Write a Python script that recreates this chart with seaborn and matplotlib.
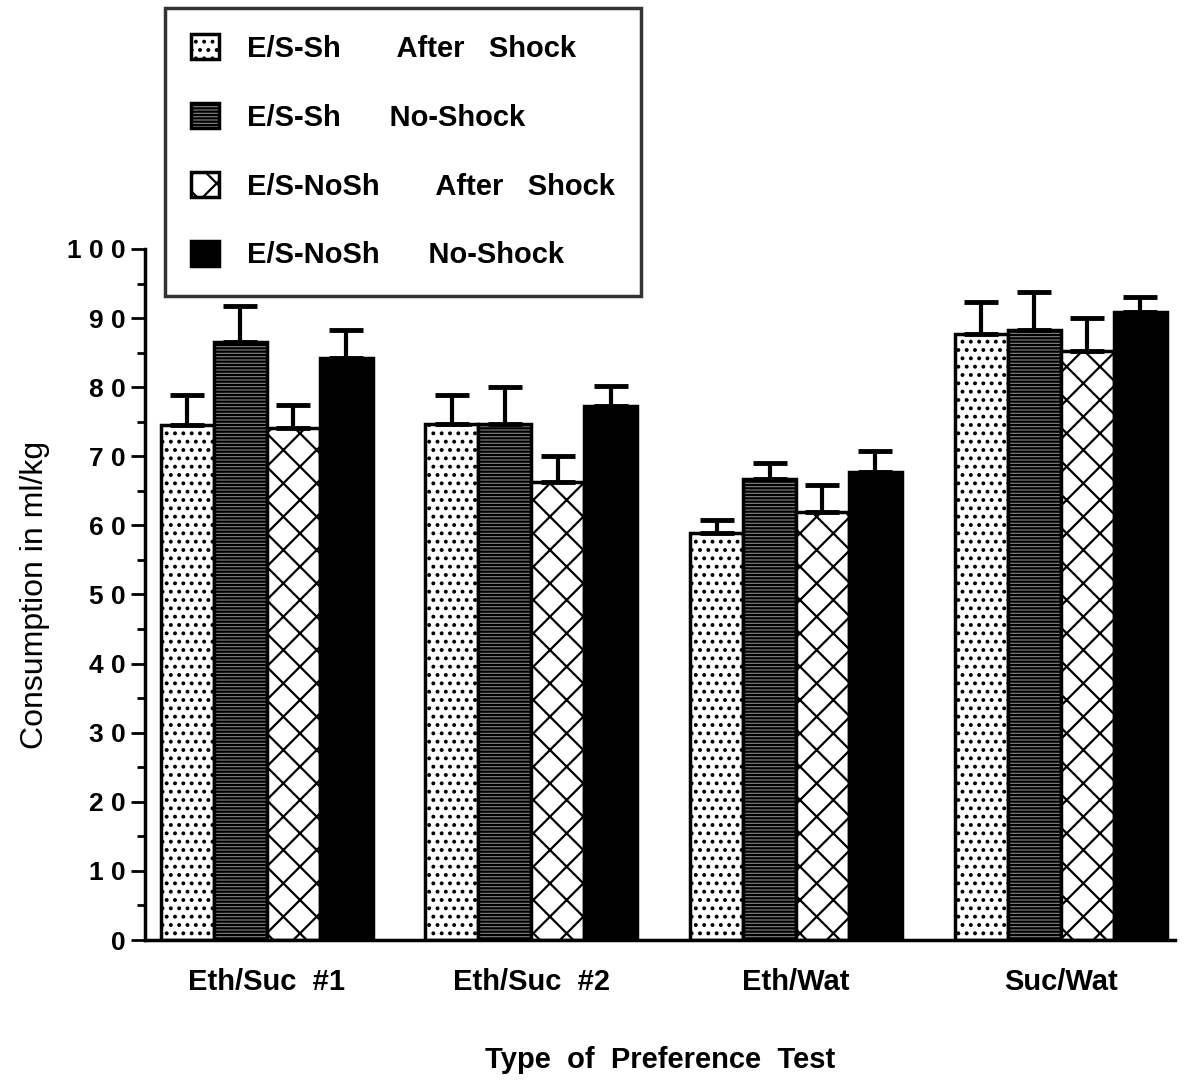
import numpy as np
import pandas as pd
import matplotlib
matplotlib.use("Agg")
import matplotlib.pyplot as plt
import seaborn as sns
from matplotlib.patches import Patch

# Preference tests and the four experimental groups
tests = ["Eth/Suc  #1", "Eth/Suc  #2", "Eth/Wat", "Suc/Wat"]
groups = ["E/S-Sh       After   Shock", "E/S-Sh      No-Shock",
          "E/S-NoSh       After   Shock", "E/S-NoSh      No-Shock"]

# Mean consumption (ml/kg) per group, one value per test
sh_after = [74.5, 74.7, 58.9, 87.7]
sh_noshock = [86.5, 74.7, 66.7, 88.3]
nosh_after = [74.1, 66.3, 61.9, 85.2]
nosh_noshock = [84.2, 77.3, 67.7, 90.9]

# Standard errors (drawn upward only)
sem_sh_after = [4.4, 4.2, 1.9, 4.6]
sem_sh_noshock = [5.2, 5.3, 2.3, 5.5]
sem_nosh_after = [3.3, 3.7, 3.9, 4.8]
sem_nosh_noshock = [4.1, 2.9, 3.1, 2.2]

means = [sh_after, sh_noshock, nosh_after, nosh_noshock]
sems = [sem_sh_after, sem_sh_noshock, sem_nosh_after, sem_nosh_noshock]

df = pd.DataFrame({
    "test": np.tile(tests, len(groups)),
    "group": np.repeat(groups, len(tests)),
    "value": np.concatenate(means),
})

sns.set_style("ticks")
plt.rcParams["font.family"] = ["Liberation Sans", "DejaVu Sans"]
plt.rcParams["font.weight"] = "bold"
plt.rcParams["text.color"] = "black"
plt.rcParams["axes.labelcolor"] = "black"
plt.rcParams["xtick.color"] = "black"
plt.rcParams["ytick.color"] = "black"
plt.rcParams["axes.edgecolor"] = "black"
plt.rcParams["hatch.linewidth"] = 1.6

fig = plt.figure(figsize=(11.93, 10.9), dpi=100)
ax = fig.add_axes([0.1215, 0.1376, 0.863, 0.634])

faces = ["white", "#858585", "white", "black"]
hatches = ["..", "-----", "x", None]

sns.barplot(data=df, x="test", y="value", hue="group", order=tests,
            hue_order=groups, palette=faces, errorbar=None, width=0.8,
            edgecolor="black", linewidth=2.5, saturation=1, legend=False, ax=ax)

for cont, face, hatch, err in zip(ax.containers, faces, hatches, sems):
    xs, tops = [], []
    for bar in cont:
        bar.set_facecolor(face)
        bar.set_edgecolor("black")
        if hatch:
            bar.set_hatch(hatch)
        xs.append(bar.get_x() + bar.get_width() / 2)
        tops.append(bar.get_height())
    ax.errorbar(xs, tops, yerr=[np.zeros(len(err)), err], fmt="none",
                ecolor="black", elinewidth=3, capsize=12, capthick=3.5, zorder=1)

ax.set_ylim(0, 100)
ax.set_xlim(-0.46, 3.43)
ax.set_yticks(np.arange(0, 101, 10))
ax.set_yticks(np.arange(5, 100, 10), minor=True)
ax.set_yticklabels([" ".join(str(v)) for v in range(0, 101, 10)],
                   fontsize=19, fontweight="bold")
ax.tick_params(axis="y", which="major", length=10, width=2, direction="out", pad=4)
ax.tick_params(axis="y", which="minor", length=6, width=2, direction="out")
ax.tick_params(axis="x", length=0, pad=20)
for lab in ax.get_xticklabels():
    lab.set_fontsize(21)
    lab.set_fontweight("bold")
sns.despine(ax=ax)
ax.spines["left"].set_linewidth(2.5)
ax.spines["bottom"].set_linewidth(2.5)

ax.set_xlabel("Type  of  Preference  Test", fontsize=21, fontweight="bold",
              labelpad=36)
ax.set_ylabel("Consumption in ml/kg", fontsize=23, fontweight="normal",
              labelpad=12)

handles = [Patch(facecolor=f, edgecolor="black", hatch=h, linewidth=2.5)
           for f, h in zip(faces, hatches)]
leg = fig.legend(handles, groups, loc="upper left",
                 bbox_to_anchor=(165 / 1193, 1 - 8 / 1090),
                 prop={"size": 21, "weight": "bold"}, frameon=True,
                 fancybox=False, edgecolor="black",
                 handlelength=0.95, handleheight=0.95, handletextpad=0.95,
                 labelspacing=1.38, borderpad=0.9, borderaxespad=0)
leg.get_frame().set_linewidth(2.5)
leg.set_zorder(5)

fig.savefig("out.png", dpi=100, facecolor="white")
